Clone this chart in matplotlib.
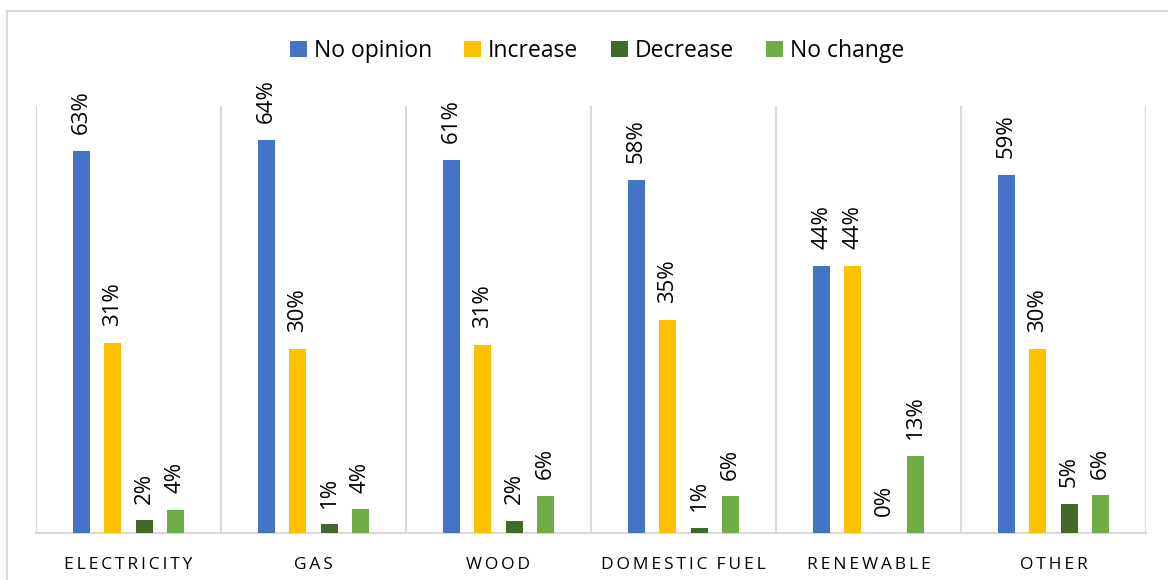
import numpy as np
import matplotlib
matplotlib.use("Agg")
import matplotlib.pyplot as plt
from matplotlib.patches import Rectangle

# Data (share of respondents)
categories = ["ELECTRICITY", "GAS", "WOOD", "DOMESTIC FUEL", "RENEWABLE", "OTHER"]
series_names = ["No opinion", "Increase", "Decrease", "No change"]
no_opinion = [0.627, 0.645, 0.612, 0.579, 0.438, 0.587]
increase = [0.312, 0.302, 0.308, 0.349, 0.438, 0.302]
decrease = [0.021, 0.014, 0.020, 0.008, 0.0, 0.048]
no_change = [0.038, 0.039, 0.061, 0.060, 0.126, 0.062]

colors = ["#4472C4", "#FFC000", "#43682B", "#70AD47"]
grid_color = "#D9D9D9"

plt.rcParams["font.family"] = ["Open Sans", "DejaVu Sans"]

fig = plt.figure(figsize=(11.68, 5.8), dpi=100)
ax = fig.add_axes([36 / 1168, 1 - 533 / 580, 1110 / 1168, 427 / 580])

# outer chart border
fig.patches.append(Rectangle((7 / 1168, -0.1), 1.2, 1 - 11 / 580 + 0.1,
                             transform=fig.transFigure, fill=False,
                             edgecolor=grid_color, linewidth=1.5))

x = np.arange(len(categories))
step = 0.169
width = 0.092
all_values = [no_opinion, increase, decrease, no_change]
for i, (name, vals, c) in enumerate(zip(series_names, all_values, colors)):
    pos = x + (i - 1.5) * step
    ax.bar(pos, vals, width=width, color=c, label=name, zorder=3)
    for px, v in zip(pos, vals):
        ax.annotate(f"{v * 100:.0f}%", (px, v), xytext=(0, 12),
                    textcoords="offset points", rotation=90,
                    ha="center", va="bottom", fontsize=16, color="#000000")

ax.set_xlim(-0.5, len(categories) - 0.5)
ax.set_ylim(0, 0.7)
ax.set_yticks([])

# category separators
for b in np.arange(-0.5, len(categories), 1.0):
    ax.axvline(b, color=grid_color, linewidth=1.5, zorder=1)

for s in ["top", "right", "left"]:
    ax.spines[s].set_visible(False)
ax.spines["bottom"].set_color(grid_color)
ax.spines["bottom"].set_linewidth(1.5)

# letter-spaced category labels
spaced = ["\u2009".join(list(c)).replace("\u2009 \u2009", "  ") for c in categories]
ax.set_xticks(x)
ax.set_xticklabels(spaced, fontsize=12.5, color="#000000")
ax.tick_params(axis="x", length=0, pad=17)

fig.legend(loc="center", bbox_to_anchor=(597 / 1168, 1 - 51 / 580), ncol=4,
           frameon=False, fontsize=16.5, handlelength=0.75, handleheight=0.75,
           handletextpad=0.3, columnspacing=1.4)

fig.savefig("out.png", dpi=100)
